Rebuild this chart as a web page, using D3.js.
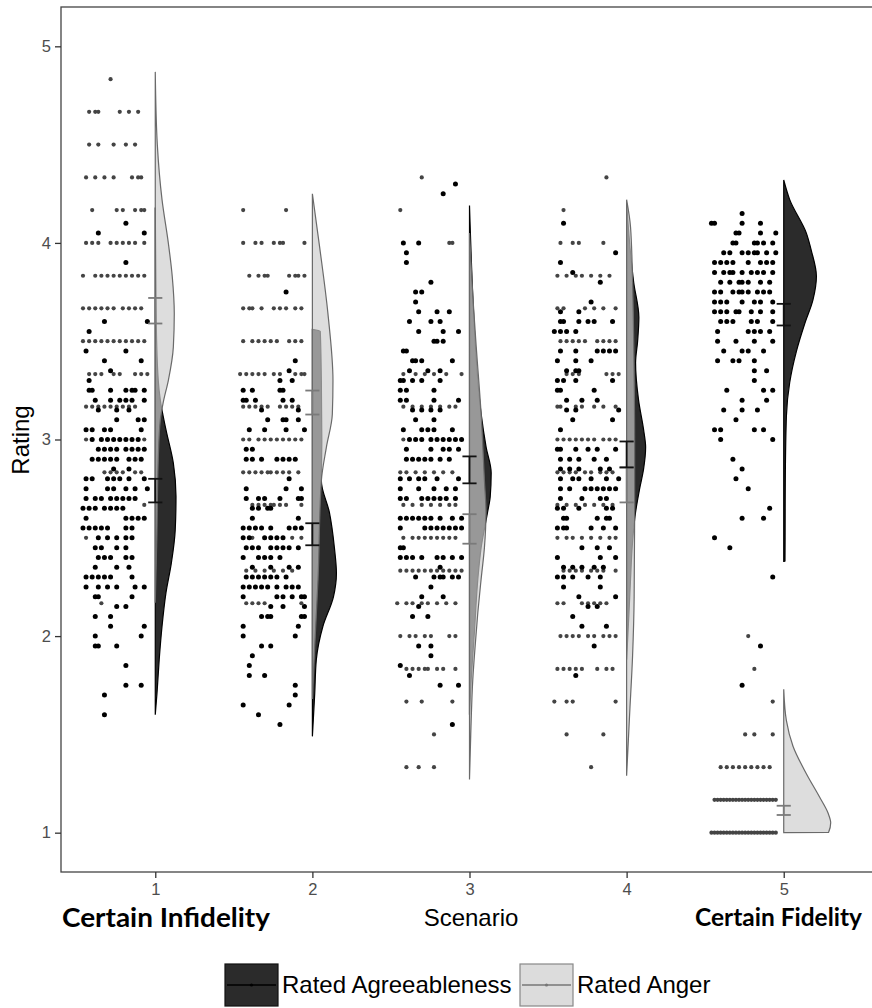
<!DOCTYPE html>
<html>
<head>
<meta charset="utf-8">
<script src="https://cdn.jsdelivr.net/npm/d3@7"></script>
<style>
  body { margin: 0; background: #fff; }
  svg { display: block; }
</style>
</head>
<body>
<script>
// scenarios on the x axis
const scenarios = [1, 2, 3, 4, 5];
const ratingTicks = [1, 2, 3, 4, 5];

// raw points, one row per rating level: [rating, [jitter slots]]
const agree1 = [[4.10,[14]],[4.05,[5,20]],[3.90,[14]],[3.60,[7,21]],[3.55,[2]],[3.45,[1,14]],[3.40,[7,19]],[3.35,[9]],[3.30,[2]],
  [3.25,[2,3,9,14,16,17,20]],[3.20,[4,9,12,14,16,20]],[3.15,[5,11,15]],[3.10,[11,18,20]],[3.05,[1,3,7,9,19]],
  [3.00,[3,6,8,10,12,14,16,18]],[2.95,[5,7,9,11,14,16,18,20]],[2.90,[3,5,7,9,11,15,17,19]],[2.85,[10,15]],
  [2.80,[1,3,8,10,12,15,20]],[2.75,[1,8,10,14,17,21]],[2.70,[1,4,6,9,11,13,15,17]],[2.65,[0,2,4,7,9,11,13]],
  [2.60,[1,14,16,18,20]],[2.55,[0,2,4,6,8,14,16]],[2.50,[5,8,11,14,16]],[2.45,[4,6,11,14]],[2.40,[5,7,9,14,16]],
  [2.35,[4,11,15]],[2.30,[1,3,5,7,9,16]],[2.25,[1,5,8,11,17,20]],[2.20,[4,5,16]],[2.15,[11,14]],[2.10,[4,9]],
  [2.05,[9,20]],[2.00,[4,19]],[1.95,[4,5,11]],[1.85,[14]],[1.75,[14,19]],[1.70,[7]],[1.60,[7]]];
const anger1 = [[4.833,[9]],[4.667,[2,4,5,12,15,18]],[4.5,[2,5,10,14,17]],[4.333,[1,4,7,10,16,18,19]],
  [4.167,[3,11,13,17,19,20]],[4.0,[1,3,5,9,11,13,15,17,20]],[3.833,[0,4,6,8,10,12,14,16,18,20]],
  [3.667,[0,2,4,6,8,10,13,15,17,19]],[3.5,[0,2,4,6,8,10,12,14,16,18,20]],[3.333,[2,4,6,10,12,17,19,21]],
  [3.167,[1,3,5,7,9,11,13,15,17]],[3.0,[1,20]],[2.833,[7,9,11,13,17,19]],[2.667,[20]],[2.5,[1]],[2.167,[6]]];

const agree2 = [[3.75,[15]],[3.40,[18]],[3.35,[16]],[3.30,[13,17]],[3.25,[1,4,13,14]],[3.20,[1,2,5,14,17]],[3.15,[7,19]],
  [3.10,[9,14,15,19]],[3.05,[3,8,15,21]],[2.95,[2,4]],[2.90,[2,4,7,12,14,16,18]],[2.80,[16]],[2.75,[2,15,20]],
  [2.70,[2,6,8,13,19,20]],[2.65,[4,6,9,10]],[2.60,[4,19]],[2.55,[1,3,5,7,10,16,18,20]],[2.50,[1,3,8,10,12,14]],
  [2.45,[2,4,6,10,12,14,16,19]],[2.40,[1,6,8,10,13]],[2.35,[4,10,16,19]],[2.30,[2,4,6,8,10,12,15]],
  [2.25,[1,3,5,7,9,12,15,17,19]],[2.20,[1,12,14,17,20,21]],[2.15,[10,14,21]],[2.10,[7,9,10,20,21]],[2.05,[1,19]],
  [2.00,[1,18]],[1.95,[7,10]],[1.90,[4]],[1.85,[3]],[1.80,[3,8]],[1.75,[18]],[1.70,[18]],[1.65,[1,16]],[1.60,[6]],[1.55,[13]]];
const anger2 = [[4.167,[1,15]],[4.0,[1,5,7,11,13,14,21]],[3.833,[3,6,8,9,16,18,19,21]],[3.667,[1,3,4,7,11,13,15,18,20]],
  [3.5,[1,4,6,8,10,12,16,18,20]],[3.333,[0,2,4,6,8,11,13,18,20,21]],[3.167,[1,3,5,7,9,13,15,17,19]],
  [3.0,[1,3,6,8,10,12,14,16,18,20]],[2.833,[1,3,5,7,9,10,12,14,16,19]],[2.667,[4,6,8,10,11,13,15,20]],
  [2.5,[4,17,20]],[2.333,[2,5,8,11,14,17]],[2.167,[2,4,6,8,20]]];

const agree3 = [[4.30,[19]],[4.25,[15]],[4.00,[2,7]],[3.95,[3]],[3.90,[3]],[3.80,[11]],[3.75,[6,8]],[3.70,[6]],
  [3.65,[7,13,17]],[3.60,[4,11,14]],[3.55,[7,15,20]],[3.50,[12,13,15]],[3.45,[2,3]],[3.40,[5,6,8,18]],[3.35,[4,10,14]],
  [3.30,[1,2,5,8,14]],[3.25,[1,3,12]],[3.20,[1,3,12,20]],[3.15,[5,8,11,14]],[3.10,[6,12]],[3.05,[2,8,10,12,18]],
  [3.00,[4,6,8,11,13,15,17,19,21]],[2.95,[3,11,15,17,20]],[2.90,[3,5,7,9,11,14,17]],[2.80,[1,4,7,9,13,20]],
  [2.75,[1,7,12,16,19]],[2.70,[1,3,8,10,12,14,16,19]],[2.60,[1,3,5,7,9,11,14,18,21]],[2.55,[1,9,11,13,15,17,19,21]],
  [2.45,[1,2]],[2.40,[1,3,5,8,13,15,18,21]],[2.35,[14]],[2.30,[6,12,14,15,18,20]],[2.25,[11]],[2.20,[8,15]],
  [2.15,[7]],[2.10,[5,10]],[1.95,[7,11]],[1.90,[11]],[1.85,[1]],[1.80,[4]],[1.75,[14,20]],[1.55,[18]]];
const anger3 = [[4.333,[8]],[4.167,[1]],[4.0,[17,18]],[3.333,[2,6,9,12,16,21]],[3.167,[2,5,8,11,14,17,19]],[3.0,[2]],
  [2.833,[1,3,6,9,12,15,18]],[2.667,[2,5,8,11,14,17,19]],[2.5,[2,5,7,9,11,13,15,17,19]],
  [2.333,[1,3,5,7,9,11,13,15,17,19,21]],[2.167,[0,3,5,8,10,13,16,19]],[2.0,[1,4,6,9,11,17,19]],
  [1.833,[3,5,7,9,10,13,15,19]],[1.667,[3,8,18]],[1.5,[12]],[1.333,[3,7,12]]];

const agree4 = [[4.10,[3]],[3.95,[20]],[3.90,[2]],[3.85,[6]],[3.80,[15]],[3.70,[12]],[3.65,[2,8]],[3.60,[2,3,8,11,13,19]],
  [3.55,[0,2,4,7]],[3.45,[2,7,14,16,18,20]],[3.40,[1,7,12]],[3.35,[4,7,8]],[3.30,[1,3,7,19]],[3.25,[1,2,13]],
  [3.20,[4,9,14]],[3.15,[4,7,21]],[3.10,[6,19]],[3.05,[2]],[2.95,[1,2,7,11,14,20]],[2.90,[2,5,8,13,17]],
  [2.85,[2,5,8,15,18]],[2.80,[2,6,8,12,17,21]],[2.75,[2,5,10,12,14,16,18,20]],[2.70,[2,9,15,17]],[2.65,[1,3,8,17,19]],
  [2.60,[3,4,14,17,18]],[2.55,[1,3,4,12,16,20]],[2.45,[9,14,18]],[2.40,[1,15,20]],[2.35,[3,6,9,13,16]],
  [2.30,[1,3,6,11,15]],[2.25,[3,15]],[2.20,[8,20]],[2.15,[11,14]],[2.10,[6]],[2.05,[9,17]],[1.95,[13]],[1.80,[7]]];
const anger4 = [[4.333,[17]],[4.167,[3]],[4.0,[2,6,8,16]],[3.833,[1,4,7,9,12,15,18]],[3.667,[1,3,10,13,16,20]],
  [3.5,[2,4,6,8,10,14,16,18,20]],[3.333,[4,6,8,17,19,21]],[3.167,[1,2,7,9,13,16,20]],[3.0,[1,3,5,7,9,11,13,16,18,20]],
  [2.833,[1,3,5,7,10,12,15,17,19]],[2.667,[1,4,7,10,13,16,19]],[2.5,[1,4,6,9,12,15,18,20]],
  [2.333,[3,5,7,9,12,14,16,20]],[2.167,[1,3,9,11,13,15,17]],[2.0,[2,4,6,8,11,13,16,18,20]],
  [1.833,[1,3,5,7,9,14,17,19]],[1.667,[0,4,6,20]],[1.5,[4,16]],[1.333,[12]]];

const agree5 = [[4.15,[10]],[4.10,[0,1,10,16]],[4.05,[8,9,16,21]],[4.00,[7,8,14,15,17,20]],[3.95,[4,6,10,12,14,15,18,21]],
  [3.90,[1,3,5,7,12,16,18,20]],[3.85,[1,4,6,7,10,13,15,17,20]],[3.80,[3,6,9,10,12,16,19]],[3.75,[1,3,7,9,10,12,15,17,19]],
  [3.70,[1,3,5,10,14,16,20]],[3.65,[1,3,5,8,9,13,16,20]],[3.60,[3,5,7,13,15,20]],[3.55,[2,12,14,16,19]],[3.50,[2,8,14,20]],
  [3.45,[4,10,12,17]],[3.40,[2,7,9,14]],[3.35,[14,18]],[3.30,[14]],[3.25,[5,17,20]],[3.20,[10,18]],[3.15,[4,10,15]],
  [3.10,[8]],[3.05,[1,3,14,17]],[3.00,[3,20]],[2.90,[7]],[2.85,[10]],[2.80,[8]],[2.75,[12]],[2.65,[19]],[2.60,[10,17]],
  [2.50,[1]],[2.45,[6]],[2.30,[20]],[1.95,[16]],[1.75,[10]]];
const anger5 = [[2.0,[12]],[1.833,[14]],[1.667,[20]],[1.5,[11,14,20]],[1.333,[3,5,7,9,11,13,15,17,19]],
  [1.167,[1,2,3,4,5,6,7,8,9,10,11,12,13,14,15,16,17,18,19,20,21]],
  [1.0,[0,1,2,3,4,5,6,7,8,9,10,11,12,13,14,15,16,17,18,19,20,21]]];

// half-violin outlines: [rating, width in x units]
const cloudAgree1 = [[4.18,0],[3.6,0.006],[3.3,0.019],[3.2,0.032],[3.05,0.068],[2.88,0.115],[2.71,0.132],[2.54,0.127],
  [2.37,0.102],[2.22,0.068],[2.05,0.043],[1.88,0.025],[1.71,0.011],[1.60,0]];
const cloudAnger1 = [[4.87,0],[4.5,0.013],[4.22,0.043],[4.0,0.083],[3.83,0.108],[3.64,0.121],[3.47,0.115],[3.30,0.083],
  [3.19,0.051],[3.10,0.032],[2.9,0.019],[2.5,0.01],[2.17,0]];
const cloudAgree2 = [[3.56,0],[3.55,0.05],[3.3,0.057],[3.0,0.06],[2.79,0.057],[2.63,0.108],[2.45,0.14],[2.32,0.153],
  [2.2,0.134],[2.05,0.067],[1.88,0.025],[1.71,0.015],[1.49,0]];
const cloudAnger2 = [[4.25,0],[3.98,0.046],[3.64,0.099],[3.30,0.131],[3.13,0.127],[2.96,0.089],[2.79,0.057],[2.29,0.036],
  [1.95,0.015],[1.68,0]];
const cloudAgree3 = [[4.19,0],[3.73,0.021],[3.47,0.038],[3.13,0.074],[2.96,0.106],[2.83,0.138],[2.71,0.132],[2.63,0.115],
  [2.45,0.074],[2.29,0.053],[2.03,0.032],[1.78,0.011],[1.60,0]];
const cloudAnger3 = [[4.05,0],[3.73,0.021],[3.47,0.043],[3.13,0.074],[2.79,0.095],[2.63,0.105],[2.45,0.095],[2.29,0.074],
  [2.12,0.053],[1.95,0.036],[1.78,0.021],[1.5,0.008],[1.27,0]];
const cloudAgree4 = [[4.2,0],[4.0,0.019],[3.8,0.045],[3.62,0.078],[3.5,0.07],[3.39,0.057],[3.2,0.076],[3.05,0.108],
  [2.96,0.121],[2.85,0.108],[2.75,0.083],[2.63,0.057],[2.46,0.036],[2.29,0.025],[2.12,0.015],[1.88,0]];
const cloudAnger4 = [[4.22,0],[4.08,0.025],[3.8,0.038],[3.5,0.045],[3.0,0.051],[2.6,0.051],[2.2,0.048],[1.9,0.038],
  [1.6,0.019],[1.29,0]];
const cloudAgree5 = [[4.32,0],[4.22,0.038],[4.05,0.144],[3.96,0.176],[3.83,0.208],[3.71,0.186],[3.59,0.134],[3.45,0.081],
  [3.29,0.038],[3.12,0.017],[2.8,0.01],[2.381,0.008],[2.38,0]];
const cloudAnger5 = [[1.73,0],[1.57,0.017],[1.44,0.059],[1.30,0.144],[1.18,0.229],[1.10,0.282],[1.05,0.299],[1.001,0.285],[1.0,0]];

// mean +- CI per scenario
const ciAgree = [[2.68,2.80],[2.462,2.574],[2.777,2.914],[2.858,2.99],[3.58,3.69]];
const ciAnger = [[3.59,3.72],[3.127,3.249],[2.47,2.62],[2.68,2.858],[1.09,1.137]];

const agreeRows = [agree1, agree2, agree3, agree4, agree5];
const angerRows = [anger1, anger2, anger3, anger4, anger5];
const cloudsAgree = [cloudAgree1, cloudAgree2, cloudAgree3, cloudAgree4, cloudAgree5];
const cloudsAnger = [cloudAnger1, cloudAnger2, cloudAnger3, cloudAnger4, cloudAnger5];

const jitterStart = -0.46, jitterStep = 0.0195;

const width = 872, height = 1008;
const svg = d3.select('body').append('svg')
  .attr('width', width)
  .attr('height', height)
  .style('font-family', '"Liberation Sans", Arial, sans-serif');

const x = d3.scaleLinear().domain([0.4, 5.6]).range([61, 878]);
const y = d3.scaleLinear().domain([0.8, 5.2]).range([872, 7]);

// flatten point rows
const toPoints = (rows, g) => rows.flatMap(([r, slots]) =>
  slots.map(s => ({ g: g, r: r, dx: jitterStart + s * jitterStep })));

const cloud = (g) => d3.area()
  .y(d => y(d[0]))
  .x0(x(g))
  .x1(d => x(g + d[1]))
  .curve(d3.curveMonotoneY);

// clouds: agreeableness first, anger on top with alpha
scenarios.forEach((g, i) => {
  svg.append('path')
    .datum(cloudsAgree[i])
    .attr('d', cloud(g))
    .attr('fill', '#2b2b2b')
    .attr('stroke', '#000')
    .attr('stroke-width', 1.2);
  svg.append('path')
    .datum(cloudsAnger[i])
    .attr('d', cloud(g))
    .attr('fill', '#cdcdcd')
    .attr('fill-opacity', 0.68)
    .attr('stroke', '#6a6a6a')
    .attr('stroke-width', 1.2);
});

// rain
const agreePts = scenarios.flatMap((g, i) => toPoints(agreeRows[i], g));
const angerPts = scenarios.flatMap((g, i) => toPoints(angerRows[i], g));

svg.append('g').selectAll('circle')
  .data(angerPts)
  .join('circle')
  .attr('cx', d => x(d.g + d.dx))
  .attr('cy', d => y(d.r))
  .attr('r', 2.1)
  .attr('fill', '#444');

svg.append('g').selectAll('circle')
  .data(agreePts)
  .join('circle')
  .attr('cx', d => x(d.g + d.dx))
  .attr('cy', d => y(d.r))
  .attr('r', 2.5)
  .attr('fill', '#000');

// error bars
const capHalf = 0.045;
function errorBars(ci, colour) {
  const eb = svg.append('g').attr('stroke', colour).attr('stroke-width', 1.8).attr('fill', 'none');
  ci.forEach(([lo, hi], i) => {
    const g = scenarios[i];
    eb.append('line').attr('x1', x(g)).attr('x2', x(g)).attr('y1', y(lo)).attr('y2', y(hi));
    eb.append('line').attr('x1', x(g - capHalf)).attr('x2', x(g + capHalf)).attr('y1', y(lo)).attr('y2', y(lo));
    eb.append('line').attr('x1', x(g - capHalf)).attr('x2', x(g + capHalf)).attr('y1', y(hi)).attr('y2', y(hi));
  });
}
errorBars(ciAnger, '#7a7a7a');
errorBars(ciAgree, '#111');

// panel border
svg.append('rect')
  .attr('x', 61).attr('y', 7)
  .attr('width', 817).attr('height', 865)
  .attr('fill', 'none')
  .attr('stroke', '#444')
  .attr('stroke-width', 1.3);

// axes
const yAxis = svg.append('g')
  .attr('transform', 'translate(61,0)')
  .call(d3.axisLeft(y).tickValues(ratingTicks).tickSize(6).tickPadding(4).tickFormat(d3.format('d')));
const xAxis = svg.append('g')
  .attr('transform', 'translate(0,872)')
  .call(d3.axisBottom(x).tickValues(scenarios).tickSize(6).tickPadding(5).tickFormat(d3.format('d')));
[yAxis, xAxis].forEach(a => {
  a.select('.domain').remove();
  a.selectAll('.tick line').attr('stroke', '#333').attr('stroke-width', 1.3);
  a.selectAll('.tick text').attr('fill', '#4d4d4d').style('font-size', '16.5px')
    .style('font-family', '"Liberation Sans", Arial, sans-serif');
});

// axis titles
svg.append('text')
  .attr('transform', 'translate(29,440) rotate(-90)')
  .attr('text-anchor', 'middle')
  .style('font-size', '24px')
  .text('Rating');
svg.append('text')
  .attr('x', 471).attr('y', 926)
  .attr('text-anchor', 'middle')
  .style('font-size', '24px')
  .text('Scenario');
svg.append('text')
  .attr('x', 62).attr('y', 927)
  .attr('textLength', 208).attr('lengthAdjust', 'spacingAndGlyphs')
  .style('font-family', 'Lato, "Open Sans", sans-serif')
  .style('font-weight', 'bold')
  .style('font-size', '26px')
  .text('Certain Infidelity');
svg.append('text')
  .attr('x', 695).attr('y', 926)
  .attr('textLength', 167).attr('lengthAdjust', 'spacingAndGlyphs')
  .style('font-family', 'Lato, "Open Sans", sans-serif')
  .style('font-weight', 'bold')
  .style('font-size', '25px')
  .text('Certain Fidelity');

// legend
const legendItems = [
  { label: 'Rated Agreeableness', fill: '#2b2b2b', stroke: '#111', line: '#000', x: 225 },
  { label: 'Rated Anger', fill: '#dcdcdc', stroke: '#888', line: '#777', x: 520 }
];
const leg = svg.append('g');
legendItems.forEach(it => {
  leg.append('rect')
    .attr('x', it.x).attr('y', 964).attr('width', 53).attr('height', 42)
    .attr('fill', it.fill).attr('stroke', it.stroke).attr('stroke-width', 1.2);
  leg.append('line')
    .attr('x1', it.x + 2).attr('x2', it.x + 51).attr('y1', 985).attr('y2', 985)
    .attr('stroke', it.line).attr('stroke-width', 1.4);
  leg.append('circle').attr('cx', it.x + 26.5).attr('cy', 985).attr('r', 1.6).attr('fill', it.line);
  leg.append('text')
    .attr('x', it.x + 57).attr('y', 993)
    .style('font-size', '24px')
    .text(it.label);
});
</script>
</body>
</html>
